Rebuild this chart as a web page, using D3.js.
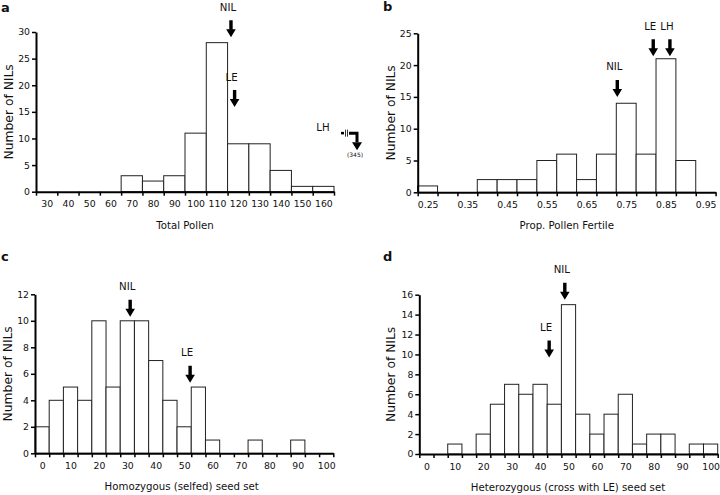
<!DOCTYPE html>
<html><head><meta charset="utf-8">
<script src="https://cdn.jsdelivr.net/npm/d3@7"></script>
<style>body{margin:0;background:#fff}svg{display:block}text{font-family:"DejaVu Sans",sans-serif;fill:#111}</style>
</head><body>
<script>
// ---------- DATA ----------
const aBins = [30,40,50,60,70,80,90,100,110,120,130,140,150,160];
const aCounts = [0,0,0,0,3,2,3,11,28,9,9,4,1,1];
const aTickLabels = [30,40,50,60,70,80,90,100,110,120,130,140,150,160];
const aYTicks = [0,5,10,15,20,25,30];
const aMarkers = [{label:"NIL", x:116.6, y:29}, {label:"LE", x:118.3, y:15.9}];
const aOffscale = {label:"LH", value:"(345)", y:11};

const bBins = [0.25,0.30,0.35,0.40,0.45,0.50,0.55,0.60,0.65,0.70,0.75,0.80,0.85,0.90,0.95];
const bCounts = [1,0,0,2,2,2,5,6,2,6,14,6,21,5,0];
const bTickLabels = [0.25,0.35,0.45,0.55,0.65,0.75,0.85,0.95];
const bYTicks = [0,5,10,15,20,25];
const bMarkers = [{label:"NIL", x:0.7275, y:15}, {label:"LE", x:0.818, y:21.4}, {label:"LH", x:0.860, y:21.4}];

const cBins = [0,5,10,15,20,25,30,35,40,45,50,55,60,65,70,75,80,85,90,95,100];
const cCounts = [2,4,5,4,10,5,10,10,7,4,2,5,1,0,0,1,0,0,1,0,0];
const cTickLabels = [0,10,20,30,40,50,60,70,80,90,100];
const cYTicks = [0,2,4,6,8,10,12];
const cMarkers = [{label:"NIL", x:31, y:10.3}, {label:"LE", x:52.1, y:5.33}];

const dBins = [0,5,10,15,20,25,30,35,40,45,50,55,60,65,70,75,80,85,90,95,100];
const dCounts = [0,0,1,0,2,5,7,6,7,5,15,4,2,4,6,1,2,2,0,1,1];
const dTickLabels = [0,10,20,30,40,50,60,70,80,90,100];
const dYTicks = [0,2,4,6,8,10,12,14,16];
const dMarkers = [{label:"NIL", x:48.7, y:15.5}, {label:"LE", x:43.2, y:9.7}];

// ---------- DRAW ----------
const svg = d3.select("body").append("svg").attr("width",720).attr("height",495);

function arrowPath(x, y){
  const L=17, hl=8, hw=4.8, sw=1.7;
  return `M${x-sw},${y-L}L${x+sw},${y-L}L${x+sw},${y-hl}L${x+hw},${y-hl}L${x},${y}L${x-hw},${y-hl}L${x-sw},${y-hl}Z`;
}

function panel(cfg){
  const {bins, counts, step, tickLabels, yTicks, markers, left, right, y0, yTop, letter, letterPos, xTitle, xTitlePos, yTitleX, fmt} = cfg;
  const g = svg.append("g");
  const x = d3.scaleLinear().domain([bins[0]-step/2, bins[bins.length-1]+step/2]).range([left,right]);
  const ymax = yTicks[yTicks.length-1];
  const y = d3.scaleLinear().domain([0,ymax]).range([y0,yTop]);
  const data = bins.map((b,i)=>({b, c:counts[i]})).filter(d=>d.c>0);
  g.selectAll("rect.bar").data(data).join("rect").attr("class","bar")
    .attr("x",d=>x(d.b-step/2)).attr("width",d=>x(d.b+step/2)-x(d.b-step/2))
    .attr("y",d=>y(d.c)).attr("height",d=>y(0)-y(d.c))
    .attr("fill","#fff").attr("stroke","#222").attr("stroke-width",1);
  // x axis: boundary ticks
  const bounds = bins.map(b=>b-step/2).concat([bins[bins.length-1]+step/2]);
  const xa = g.append("g").attr("transform",`translate(0,${y0})`)
    .call(d3.axisBottom(x).tickValues(bounds).tickSize(4).tickFormat("").tickSizeOuter(0));
  xa.select(".domain").attr("stroke","#000").attr("stroke-width",2);
  xa.selectAll(".tick line").attr("stroke","#000").attr("stroke-width",1.5);
  const xl = g.append("g").attr("transform",`translate(0,${y0})`)
    .call(d3.axisBottom(x).tickValues(tickLabels).tickSize(0).tickPadding(9).tickFormat(fmt));
  xl.select(".domain").remove();
  xl.selectAll("text").attr("font-size",9.3).attr("font-family","DejaVu Sans").attr("fill","#222");
  // y axis
  const ya = g.append("g").attr("transform",`translate(${left},0)`)
    .call(d3.axisLeft(y).tickValues(yTicks).tickSize(4).tickPadding(2).tickSizeOuter(0));
  ya.select(".domain").attr("stroke","#000").attr("stroke-width",2);
  ya.selectAll(".tick line").attr("stroke","#000").attr("stroke-width",1.5);
  ya.selectAll("text").attr("font-size",9.3).attr("font-family","DejaVu Sans").attr("fill","#222");
  // titles
  g.append("text").attr("x",xTitlePos[0]).attr("y",xTitlePos[1]).attr("text-anchor","middle")
    .attr("dominant-baseline","central").attr("font-size",10.2).text(xTitle);
  g.append("text").attr("transform",`translate(${yTitleX},${(y0+yTop)/2}) rotate(-90)`)
    .attr("text-anchor","middle").attr("dominant-baseline","central").attr("font-size",12.3).text("Number of NILs");
  g.append("text").attr("x",letterPos[0]).attr("y",letterPos[1]).attr("font-size",13)
    .attr("font-weight","bold").attr("font-family","Liberation Sans, Arial, sans-serif").text(letter);
  // markers
  markers.forEach(m=>{
    const px = x(m.x), py = y(m.y);
    g.append("path").attr("d",arrowPath(px,py)).attr("fill","#000");
    g.append("text").attr("x",px-3).attr("y",py-17-13).attr("text-anchor","middle")
      .attr("dominant-baseline","central").attr("font-size",10.2).text(m.label);
  });
  return {g,x,y};
}

const A = panel({bins:aBins, counts:aCounts, step:10, tickLabels:aTickLabels, yTicks:aYTicks, markers:aMarkers,
  left:36, right:334, y0:191.7, yTop:32, letter:"a", letterPos:[1,12], xTitle:"Total Pollen", xTitlePos:[185,225], yTitleX:8.5, fmt:d3.format("d")});
panel({bins:bBins, counts:bCounts, step:0.05, tickLabels:bTickLabels, yTicks:bYTicks, markers:bMarkers,
  left:417.7, right:715.6, y0:192.3, yTop:33.3, letter:"b", letterPos:[383,11], xTitle:"Prop. Pollen Fertile", xTitlePos:[566.7,225], yTitleX:391, fmt:d3.format(".2f")});
panel({bins:cBins, counts:cCounts, step:5, tickLabels:cTickLabels, yTicks:cYTicks, markers:cMarkers,
  left:35, right:333.3, y0:453.3, yTop:294.3, letter:"c", letterPos:[1,261], xTitle:"Homozygous (selfed) seed set", xTitlePos:[181.7,486.7], yTitleX:7.5, fmt:d3.format("d")});
panel({bins:dBins, counts:dCounts, step:5, tickLabels:dTickLabels, yTicks:dYTicks, markers:dMarkers,
  left:419.3, right:717.7, y0:454, yTop:294.7, letter:"d", letterPos:[383,261], xTitle:"Heterozygous (cross with LE) seed set", xTitlePos:[568,487.7], yTitleX:391, fmt:d3.format("d")});

// off-scale LH marker in panel a (broken arrow beyond axis end)
(function(){
  const g = A.g, xr = A.x.range()[1], py = A.y(aOffscale.y);
  g.append("text").attr("x",xr-11).attr("y",py-6).attr("text-anchor","middle")
    .attr("dominant-baseline","central").attr("font-size",10.2).text(aOffscale.label);
  g.append("line").attr("x1",xr+7).attr("x2",xr+10).attr("y1",py).attr("y2",py).attr("stroke","#000").attr("stroke-width",2.5);
  [11.5,13.5].forEach(dx=>g.append("line").attr("x1",xr+dx).attr("x2",xr+dx).attr("y1",py-3.5).attr("y2",py+3.5).attr("stroke","#000").attr("stroke-width",0.8));
  g.append("path").attr("d",`M${xr+15},${py}L${xr+23},${py}L${xr+23},${py+9}`).attr("fill","none").attr("stroke","#000").attr("stroke-width",3);
  g.append("path").attr("d",`M${xr+18},${py+9}L${xr+28},${py+9}L${xr+23},${py+17}Z`).attr("fill","#000");
  g.append("text").attr("x",xr+21).attr("y",py+21).attr("text-anchor","middle")
    .attr("dominant-baseline","central").attr("font-size",6).text(aOffscale.value);
})();
</script>
</body></html>
